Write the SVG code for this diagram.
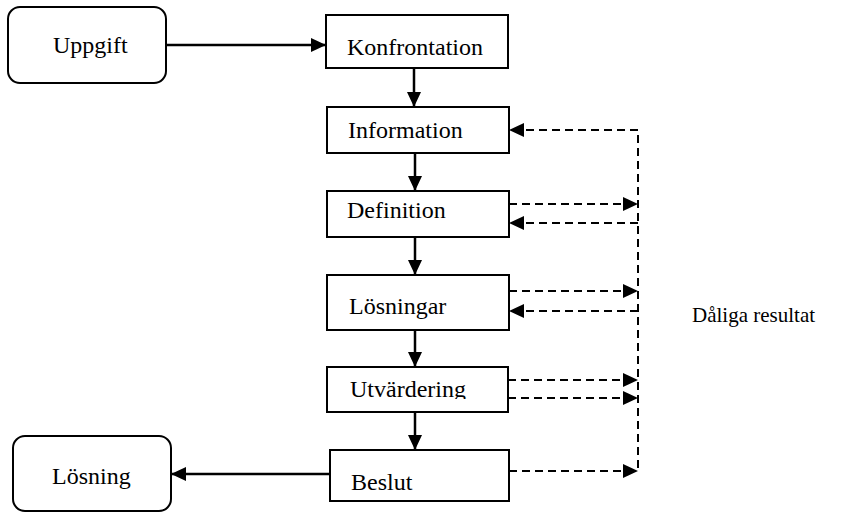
<svg xmlns="http://www.w3.org/2000/svg" width="845" height="513" viewBox="0 0 845 513">
  <style>
    .box { fill: #fff; stroke: #000; stroke-width: 2; }
    .lbl { font-family: "Liberation Serif", "Times New Roman", serif; font-size: 24px; fill: #000; }
    .note { font-size: 21px; }
    .solid { fill: none; stroke: #000; stroke-width: 2.5; marker-end: url(#head); }
    .dash { fill: none; stroke: #000; stroke-width: 2; stroke-dasharray: 8 5; }
    .dasharrow { marker-end: url(#head); }
  </style>
  <defs>
    <marker id="head" markerUnits="userSpaceOnUse" markerWidth="15" markerHeight="14" refX="15" refY="7" orient="auto">
      <path d="M0,0 L15,7 L0,14 z" fill="#000"/>
    </marker>
    <clipPath id="clipUtv">
      <rect x="327" y="367" width="181" height="32"/>
    </clipPath>
  </defs>

  <g id="connectors">
    <!-- main flow -->
    <path class="solid" d="M166,45 L326,45"/>
    <path class="solid" d="M414,68 L414,107"/>
    <path class="solid" d="M415,153 L415,191"/>
    <path class="solid" d="M415,237 L415,275"/>
    <path class="solid" d="M415,330 L415,367"/>
    <path class="solid" d="M415,412 L415,450"/>
    <path class="solid" d="M330,474 L171,474"/>
    <!-- feedback bus -->
    <path class="dash" d="M638,468 L638,130"/>
    <path class="dash dasharrow" d="M638,130 L509,130"/>
    <path class="dash dasharrow" d="M509,204 L638,204"/>
    <path class="dash dasharrow" d="M638,223 L509,223"/>
    <path class="dash dasharrow" d="M509,291 L638,291"/>
    <path class="dash dasharrow" d="M638,311 L509,311"/>
    <path class="dash dasharrow" d="M508,380 L638,380"/>
    <path class="dash dasharrow" d="M508,398 L638,398"/>
    <path class="dash dasharrow" d="M509,471 L638,471"/>
  </g>

  <g id="uppgift">
    <rect class="box" x="8" y="7" width="158" height="76" rx="12"/>
    <text class="lbl" x="53" y="53">Uppgift</text>
  </g>
  <g id="konfrontation">
    <rect class="box" x="326" y="15" width="182" height="53"/>
    <text class="lbl" x="347" y="55">Konfrontation</text>
  </g>
  <g id="information">
    <rect class="box" x="327" y="107" width="182" height="46"/>
    <text class="lbl" x="348" y="138">Information</text>
  </g>
  <g id="definition">
    <rect class="box" x="327" y="191" width="182" height="46"/>
    <text class="lbl" x="347" y="218">Definition</text>
  </g>
  <g id="losningar">
    <rect class="box" x="327" y="275" width="182" height="55"/>
    <text class="lbl" x="349" y="314">Lösningar</text>
  </g>
  <g id="utvardering">
    <rect class="box" x="327" y="367" width="181" height="45"/>
    <text class="lbl" x="350" y="397" clip-path="url(#clipUtv)">Utvärdering</text>
  </g>
  <g id="beslut">
    <rect class="box" x="330" y="450" width="179" height="51"/>
    <text class="lbl" x="351" y="490">Beslut</text>
  </g>
  <g id="losning">
    <rect class="box" x="13" y="436" width="158" height="75" rx="12"/>
    <text class="lbl" x="52" y="484">Lösning</text>
  </g>
  <g id="daliga-resultat">
    <text class="lbl note" x="692" y="322">Dåliga resultat</text>
  </g>
</svg>
